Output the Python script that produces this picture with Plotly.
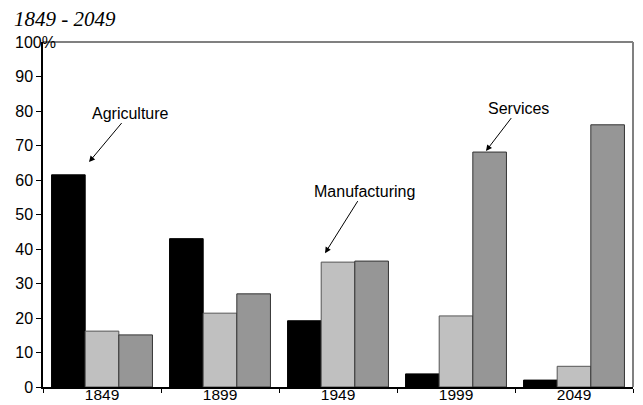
import plotly.graph_objects as go

years = ["1849", "1899", "1949", "1999", "2049"]
agriculture = [61.5, 43.0, 19.2, 3.8, 2.0]
manufacturing = [16.2, 21.4, 36.2, 20.6, 6.0]
services = [15.1, 27.0, 36.5, 68.1, 76.0]
y_ticks = [0, 10, 20, 30, 40, 50, 60, 70, 80, 90]

FONT = "Liberation Sans, Arial, sans-serif"

fig = go.Figure()
for name, vals, col, lc in [
    ("Agriculture", agriculture, "#000000", "#000000"),
    ("Manufacturing", manufacturing, "#C0C0C0", "#555555"),
    ("Services", services, "#969696", "#333333"),
]:
    fig.add_trace(go.Bar(x=years, y=vals, name=name,
                         marker=dict(color=col, line=dict(color=lc, width=1))))

fig.update_layout(
    width=643, height=405,
    margin=dict(l=43, r=10, t=42, b=18),
    paper_bgcolor="white", plot_bgcolor="white",
    barmode="group", bargap=0.145, bargroupgap=0,
    showlegend=False,
    font=dict(family=FONT, size=16, color="black"),
)
fig.update_xaxes(type="category", tickson="boundaries", ticks="outside", ticklen=4,
                 tickcolor="black", showline=True, linecolor="black", linewidth=1.5,
                 showgrid=False, tickfont=dict(size=15.5), automargin=False,
                 ticklabelstandoff=-7)
fig.update_yaxes(range=[0, 100], tickvals=y_ticks, ticks="outside", ticklen=5,
                 tickcolor="black", showline=True, linecolor="black", linewidth=1.5,
                 showgrid=False, zeroline=False, tickfont=dict(size=16), automargin=False)

# gray frame top/right
fig.add_shape(type="line", xref="paper", yref="paper", x0=0, x1=1, y0=1, y1=1,
              line=dict(color="#808080", width=2))
fig.add_shape(type="line", xref="paper", yref="paper", x0=1, x1=1, y0=0, y1=1,
              line=dict(color="#808080", width=2))

fig.add_annotation(text="100%", xref="paper", yref="y", x=-0.051, y=100,
                   xanchor="left", yanchor="middle", showarrow=False,
                   font=dict(size=16))
fig.add_annotation(text="<i>1849 - 2049</i>", xref="paper", yref="paper",
                   x=-0.052, y=1.067, xanchor="left", yanchor="middle", showarrow=False,
                   font=dict(family="Liberation Serif, Times New Roman, serif", size=21))

for txt, hx, hy, ax, ay in [
    ("Agriculture", -0.11, 65.2, 41, -49),
    ("Manufacturing", 1.89, 38.8, 39, -62),
    ("Services", 3.254, 68.4, 33, -43),
]:
    fig.add_annotation(text=txt, x=hx, y=hy, xref="x", yref="y", ax=ax, ay=ay,
                       showarrow=True, arrowhead=2, arrowsize=1.2, arrowwidth=1,
                       arrowcolor="black", font=dict(size=16))

fig.write_html("out.html", config={"displayModeBar": False},
               post_script="document.body.style.margin='0';document.body.style.overflow='hidden';")
